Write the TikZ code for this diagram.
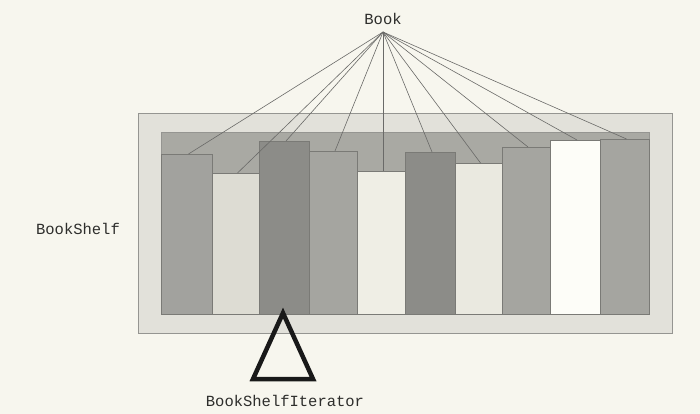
\documentclass[tikz,border=0pt]{standalone}
\usepackage{fontspec}
\setmonofont{Liberation Mono}
\definecolor{paper}{HTML}{F7F6EE}
\definecolor{shelfout}{HTML}{E2E1DA}
\definecolor{shelfin}{HTML}{A9A9A3}
\definecolor{bdark}{HTML}{8C8C88}
\definecolor{bmid}{HTML}{A5A5A0}
\definecolor{blight}{HTML}{DDDCD3}
\definecolor{bpale}{HTML}{EFEEE5}
\definecolor{bwhite}{HTML}{FDFDF8}
\definecolor{edge}{HTML}{7A7A76}
\definecolor{wire}{HTML}{6A6A68}
\definecolor{ink}{HTML}{2E2E2C}
\tikzset{
  lbl/.style={font=\ttfamily\fontsize{15.5}{18}\selectfont, text=ink, inner sep=0pt},
  book/.style={draw=edge, line width=0.7pt, inner sep=0pt, outer sep=0pt, anchor=north west, minimum height={314pt-#1}},
  wirestyle/.style={draw=wire, line width=0.6pt},
  shelfbox/.style={draw=edge!80, line width=0.8pt}
}
\begin{document}
\begin{tikzpicture}[x=1pt,y=-1pt]
\useasboundingbox (0,0) rectangle (700,414);
\fill[paper] (0,0) rectangle (700,414);
% shelf
\draw[shelfbox, fill=shelfout] (138,113) rectangle (672,333);
\draw[shelfbox, fill=shelfin] (161,132) rectangle (649,314);
% books
\node[book=154, fill=bmid!90!bdark, minimum width=51pt] (b1) at (161,154) {};
\node[book=173, fill=blight, minimum width=47pt] (b2) at (212,173) {};
\node[book=141, fill=bdark, minimum width=50pt] (b3) at (259,141) {};
\node[book=151, fill=bmid, minimum width=48pt] (b4) at (309,151) {};
\node[book=171, fill=bpale, minimum width=48pt] (b5) at (357,171) {};
\node[book=152, fill=bdark, minimum width=50pt] (b6) at (405,152) {};
\node[book=163, fill=bpale!70!blight, minimum width=47pt] (b7) at (455,163) {};
\node[book=147, fill=bmid, minimum width=48pt] (b8) at (502,147) {};
\node[book=140, fill=bwhite, minimum width=50pt] (b9) at (550,140) {};
\node[book=139, fill=bmid, minimum width=49pt] (b10) at (600,139) {};
% labels
\node[lbl] (booklbl) at (383,19) {Book};
\coordinate (apex) at (383,32);
\node[lbl] (shelflbl) at (78,229) {BookShelf};
\node[lbl] (iterlbl) at (285,401) {BookShelfIterator};
% wires
\foreach \i in {1,...,10} \draw[wirestyle] (apex) -- ([xshift=2pt]b\i.north);
% inheritance triangle
\coordinate (tA) at (283,313);
\coordinate (tL) at (253,379);
\coordinate (tR) at (313,379);
\draw[line width=4.5pt, line join=miter, draw=black!90] (tA) -- (tL) -- (tR) -- cycle;
\end{tikzpicture}
\end{document}
